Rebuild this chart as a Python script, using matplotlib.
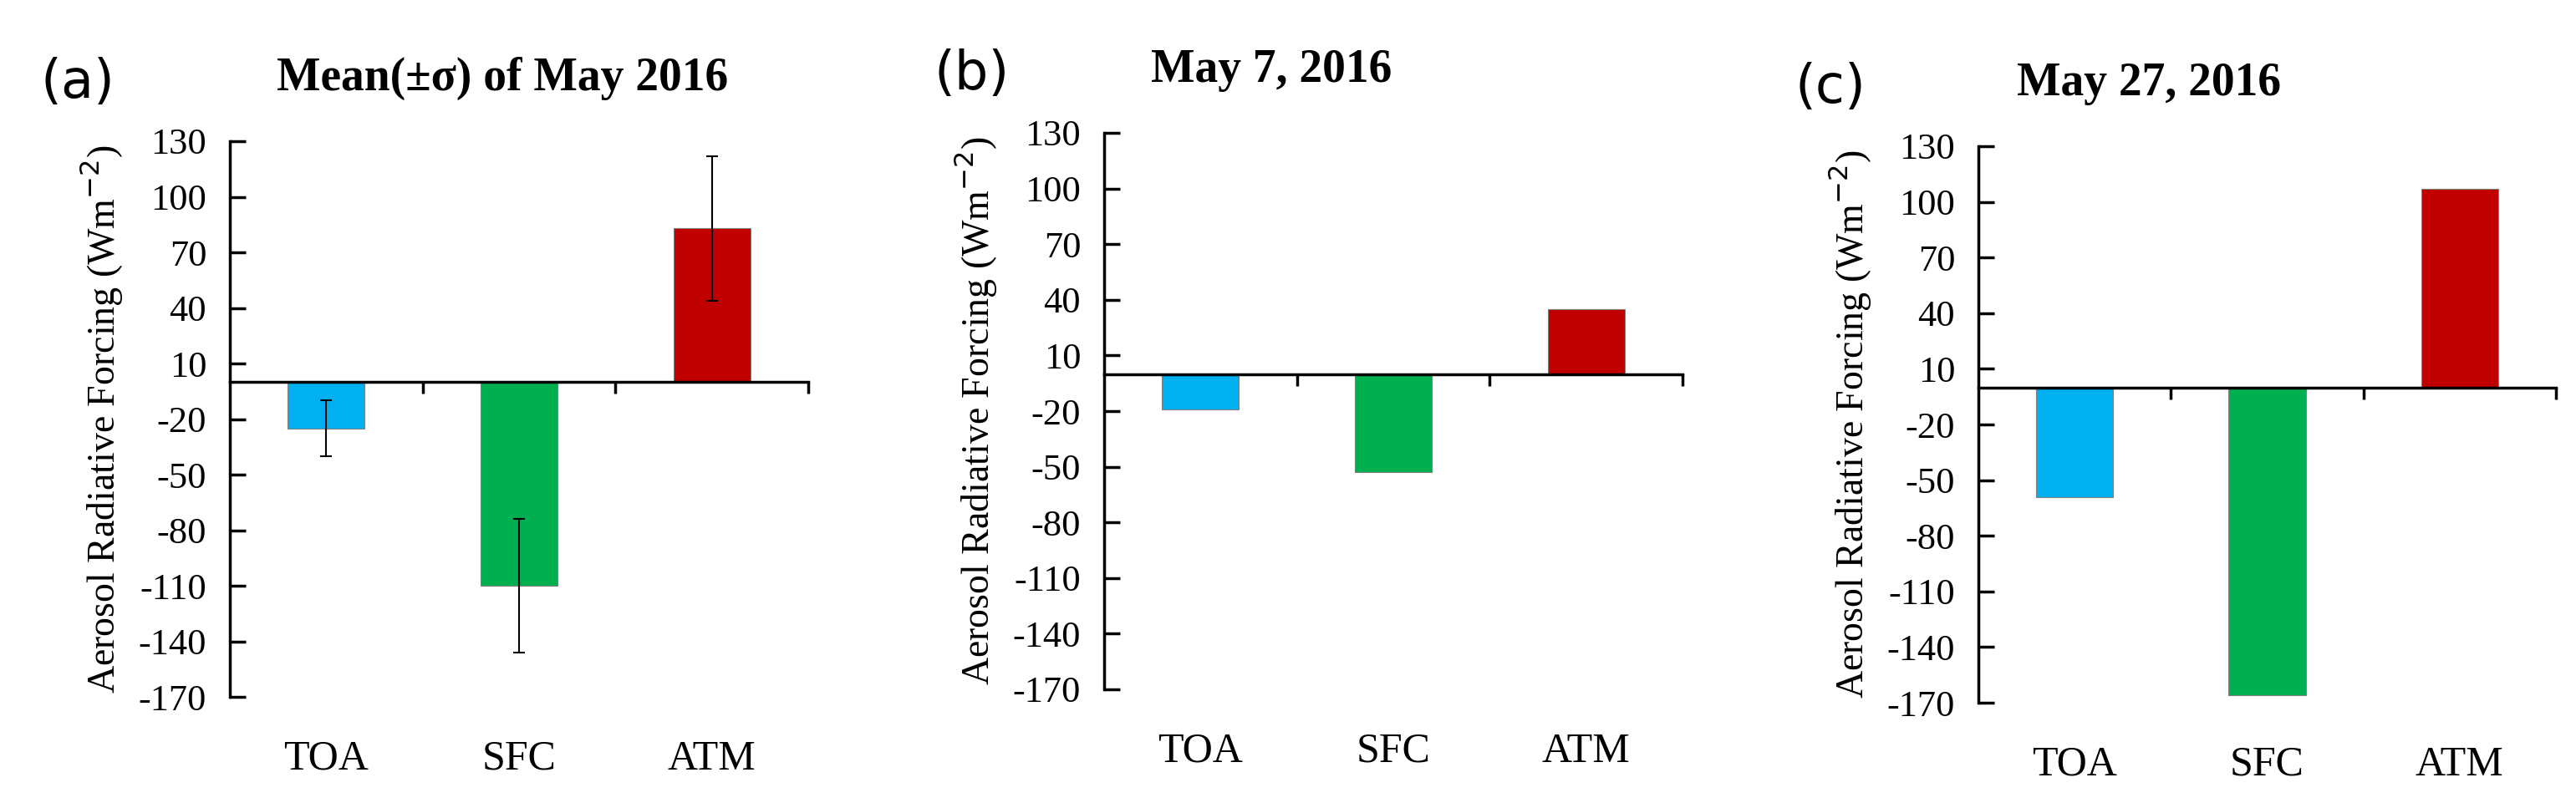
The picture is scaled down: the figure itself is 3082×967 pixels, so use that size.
import matplotlib
matplotlib.use("Agg")
import matplotlib.pyplot as plt
from matplotlib.transforms import blended_transform_factory

plt.rcParams["font.family"] = ["Liberation Serif", "DejaVu Serif"]
plt.rcParams["axes.unicode_minus"] = False

categories = ["TOA", "SFC", "ATM"]
colors = ["#00B0F0", "#00B050", "#C00000"]
yticks = [130, 100, 70, 40, 10, -20, -50, -80, -110, -140, -170]

mean_vals = [-25, -110, 83]
mean_err = [15, 36, 39]
may7_vals = [-19, -53, 35]
may27_vals = [-59, -166, 107]

panels = [
    ("(a)", "Mean(\u00b1\u03c3) of May 2016", mean_vals, mean_err),
    ("(b)", "May 7, 2016", may7_vals, None),
    ("(c)", "May 27, 2016", may27_vals, None),
]

W, H = 3082, 967
fig = plt.figure(figsize=(W / 100, H / 100), dpi=100)

# axes boxes in pixels: left, right, top(130), bottom(-170)
boxes = [(275, 967, 169, 834), (1321, 2013, 159, 825), (2367, 3058, 175, 841)]
letter_x = [93, 1163, 2190]
title_x = [331, 1377, 2413]

for (tag, title, vals, err), (l, r, t, b), lx, tx in zip(panels, boxes, letter_x, title_x):
    ax = fig.add_axes([l / W, 1 - b / H, (r - l) / W, (b - t) / H])
    ax.bar(range(3), vals, width=0.4, color=colors, edgecolor="#7f7f7f", linewidth=0.8,
           yerr=err, error_kw=dict(ecolor="black", elinewidth=1.5, capsize=5, capthick=1.5))
    ax.set_ylim(-170, 130)
    ax.set_xlim(-0.5, 2.5)
    ax.set_yticks(yticks)
    ax.tick_params(axis="y", direction="in", length=14, width=2.5, labelsize=32, pad=20)
    ax.spines["left"].set_linewidth(2.5)
    ax.spines["bottom"].set_position(("data", 0))
    ax.spines["bottom"].set_linewidth(2.5)
    ax.spines["top"].set_visible(False)
    ax.spines["right"].set_visible(False)
    ax.set_xticks([0.5, 1.5, 2.5])
    ax.set_xticklabels([])
    ax.tick_params(axis="x", direction="out", length=10, width=2.5)
    trans = blended_transform_factory(ax.transData, ax.transAxes)
    for i, c in enumerate(categories):
        ax.text(i, -0.112, c, transform=trans, ha="center", va="center", fontsize=36)
    ax.set_ylabel("Aerosol Radiative Forcing (Wm$^{-2}$)", fontsize=33, labelpad=12)
    fig.text(tx / W, 1 - (t - 75) / H, title, ha="left", va="center",
             fontsize=40, fontweight="bold")
    fig.text(lx / W, 1 - (t - 70) / H, tag, ha="center", va="center",
             fontsize=46, family="DejaVu Sans")

fig.savefig("out.png", dpi=100, facecolor="white")
